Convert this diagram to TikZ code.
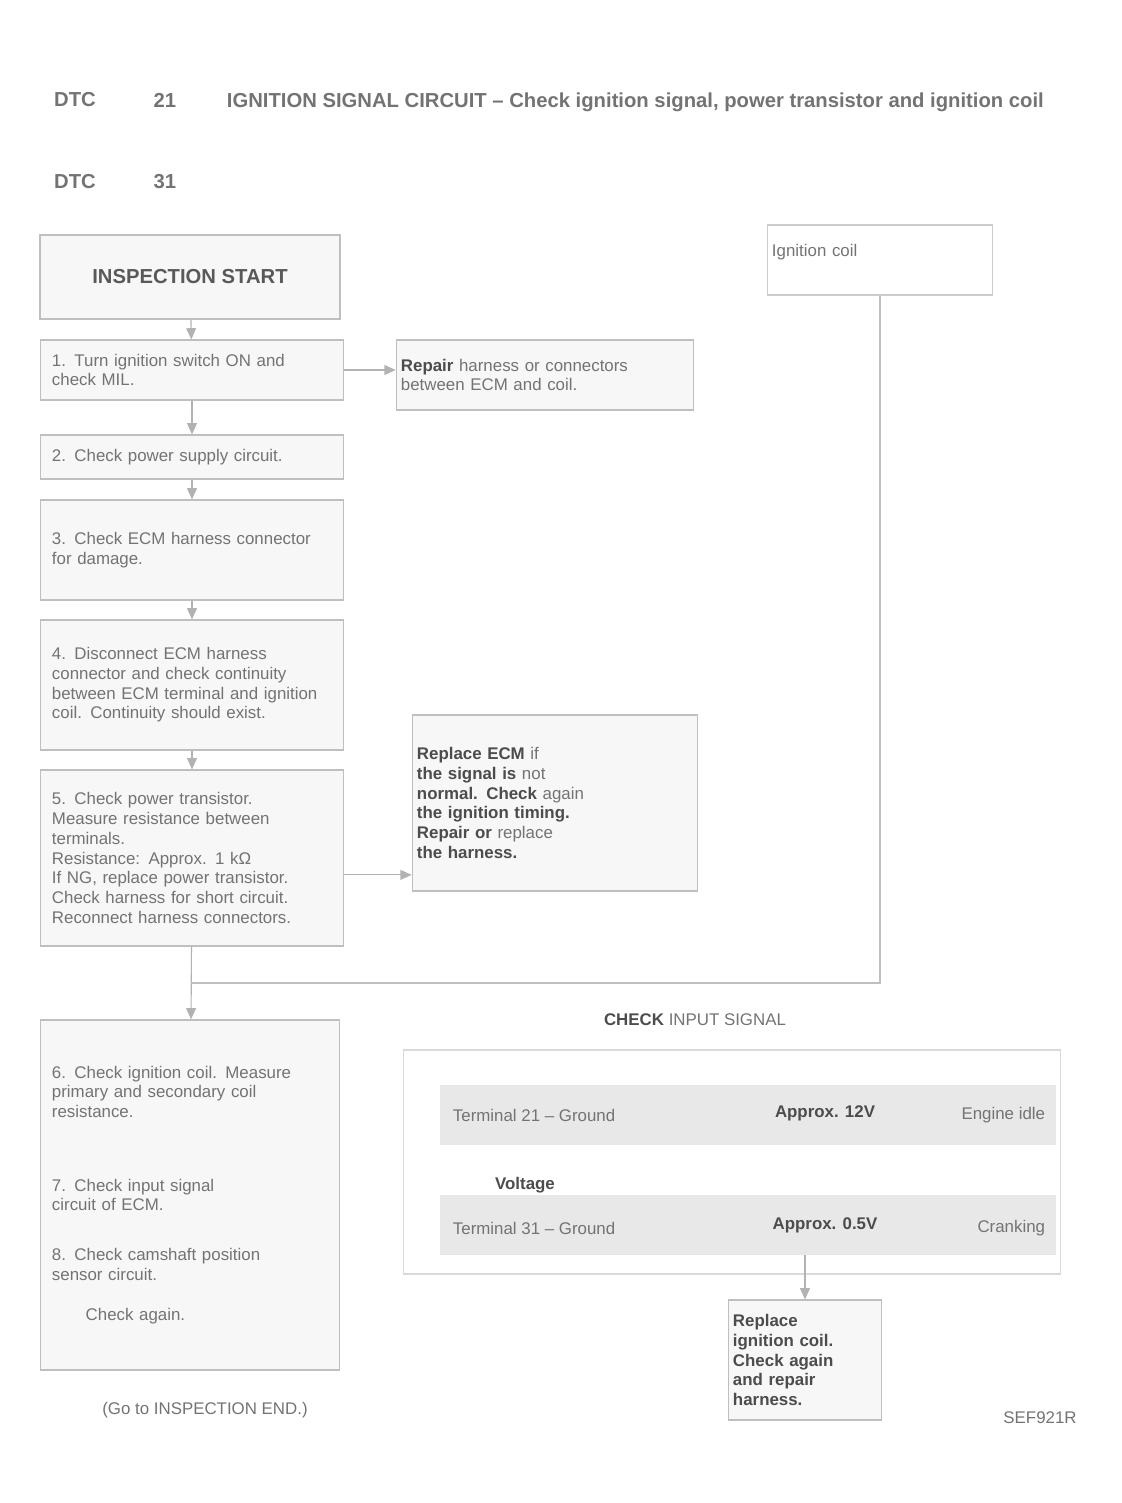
\documentclass[tikz,border=0pt]{standalone}
\usepackage{fontspec}
\setmainfont{Liberation Sans}
\usetikzlibrary{arrows.meta}
\hyphenpenalty=10000
\exhyphenpenalty=10000
\tikzset{
  stepbox/.style={draw=black!25,thick,fill=black!3,align=left,text width=7cm,inner sep=8pt},
  flow/.style={draw=black!30,thick,-{Triangle[length=8pt,width=7pt]}},
  link/.style={draw=black!25,thick},
  rowband/.style={fill=black!9,minimum width=15.4cm,minimum height=1.5cm},
}
\begin{document}
\begin{tikzpicture}[x=0.025cm,y=-0.025cm,every node/.style={font=\large,text=black!55}]
\useasboundingbox (0,0) rectangle (1122,1503);
% header lines
\node[font=\Large\bfseries] (hda) at (75,100) {DTC};
\node[font=\Large\bfseries] (hdb) at (165,100) {21};
\node[anchor=west,font=\Large\bfseries] (hdc) at (222,102) {IGNITION SIGNAL CIRCUIT -- Check ignition signal, power transistor and ignition coil};
\node[font=\Large\bfseries] (hdd) at (75,182) {DTC};
\node[font=\Large\bfseries] (hde) at (165,182) {31};
% left column
\node[draw=black!25,thick,fill=black!3,minimum width=7.5cm,minimum height=2.1cm,font=\Large\bfseries,text=black!65] (start) at (190,277) {INSPECTION START};
\node[stepbox,minimum height=1.5cm] (s1) at (192,370) {1. Turn ignition switch ON and check MIL.};
\node[stepbox,minimum height=1.1cm] (s2) at (192,457) {2. Check power supply circuit.};
\node[stepbox,minimum height=2.5cm] (s3) at (192,550) {3. Check ECM harness connector\\ for damage.};
\node[stepbox,minimum height=3.25cm] (s4) at (192,685) {4. Disconnect ECM harness connector and check continuity between ECM terminal and ignition coil. Continuity should exist.};
\node[stepbox,minimum height=4.4cm] (s5) at (192,858) {5. Check power transistor.\\ Measure resistance between terminals.\\ Resistance: Approx. 1 kΩ\\ If NG, replace power transistor.\\ Check harness for short circuit.\\ Reconnect harness connectors.};
\node[stepbox,text width=6.9cm,minimum height=8.75cm] (b1) at (190,1195) {6. Check ignition coil. Measure primary and secondary coil resistance.\\[3.2em] 7. Check input signal\\ circuit of ECM.\\[1.8em] 8. Check camshaft position\\ sensor circuit.\\[1.2em] \hspace*{2em}Check again.};
% right side boxes
\node[draw=black!25,thick,fill=black!3,align=left,text width=7.2cm,minimum height=1.75cm] (r1) at (545,375) {\textbf{\color{black!70}Repair} harness or connectors\\ between ECM and coil.};
\node[draw=black!25,thick,fill=black!3,align=left,text width=6.9cm,minimum height=4.4cm] (m1) at (555,803) {{\bfseries\color{black!70}Replace ECM} if\\ {\bfseries\color{black!70}the signal is} not\\ {\bfseries\color{black!70}normal. Check} again\\ {\bfseries\color{black!70}the ignition} {\bfseries\color{black!70}timing.}\\ {\bfseries\color{black!70}Repair or} replace\\ {\bfseries\color{black!70}the harness.}};
\node[draw=black!20,thick,align=left,text width=5.4cm,minimum height=1.75cm] (tr) at (880,260) {Ignition coil\\ \phantom{x}};
% check table
\node[draw=black!15,thick,minimum width=16.4cm,minimum height=5.6cm] (t1) at (732,1162) {};
\node[rowband] (row1) at (748,1115) {};
\node[rowband] (row2) at (748,1225) {};
\node[anchor=west] (row1a) at (448,1115) {Terminal 21 -- Ground};
\node[font=\large\bfseries,text=black!70] (row1b) at (825,1113) {Approx. 12V};
\node[anchor=east] (row1c) at (1050,1115) {Engine idle};
\node[font=\large\bfseries,text=black!70] (rowhd) at (525,1185) {Voltage};
\node[anchor=west] (row2a) at (448,1228) {Terminal 31 -- Ground};
\node[font=\large\bfseries,text=black!70] (row2b) at (825,1225) {Approx. 0.5V};
\node[anchor=east] (row2c) at (1050,1228) {Cranking};
\node[align=left] (tabhd) at (695,1020) {\textbf{\color{black!70}CHECK} INPUT SIGNAL};
\node[draw=black!25,thick,fill=black!3,align=left,text width=3.6cm,minimum height=3cm,font=\large\bfseries,text=black!70] (e1) at (805,1360) {Replace\\ ignition coil.\\ Check again\\ and repair\\ harness.};
% connectors
\path (s5.south) -- (b1.north) coordinate[pos=0.5] (join);
\coordinate (ng) at ([yshift=-12pt]s5.east);
\draw[flow] (start) -- (s1);
\draw[flow] (s1) -- (s2);
\draw[flow] (s2) -- (s3);
\draw[flow] (s3) -- (s4);
\draw[flow] (s4) -- (s5);
\draw[flow] (s5) -- (b1);
\draw[flow] (s1.east) -- (r1.west |- s1.east);
\draw[flow] (ng) -- (m1.west |- ng);
\draw[link] (tr.south) |- (join);
\draw[flow] (row2.south -| e1.north) -- (e1.north);
% footer
\node (foot) at (205,1410) {(Go to INSPECTION END.)};
\node (code) at (1040,1418) {SEF921R};
\end{tikzpicture}
\end{document}
